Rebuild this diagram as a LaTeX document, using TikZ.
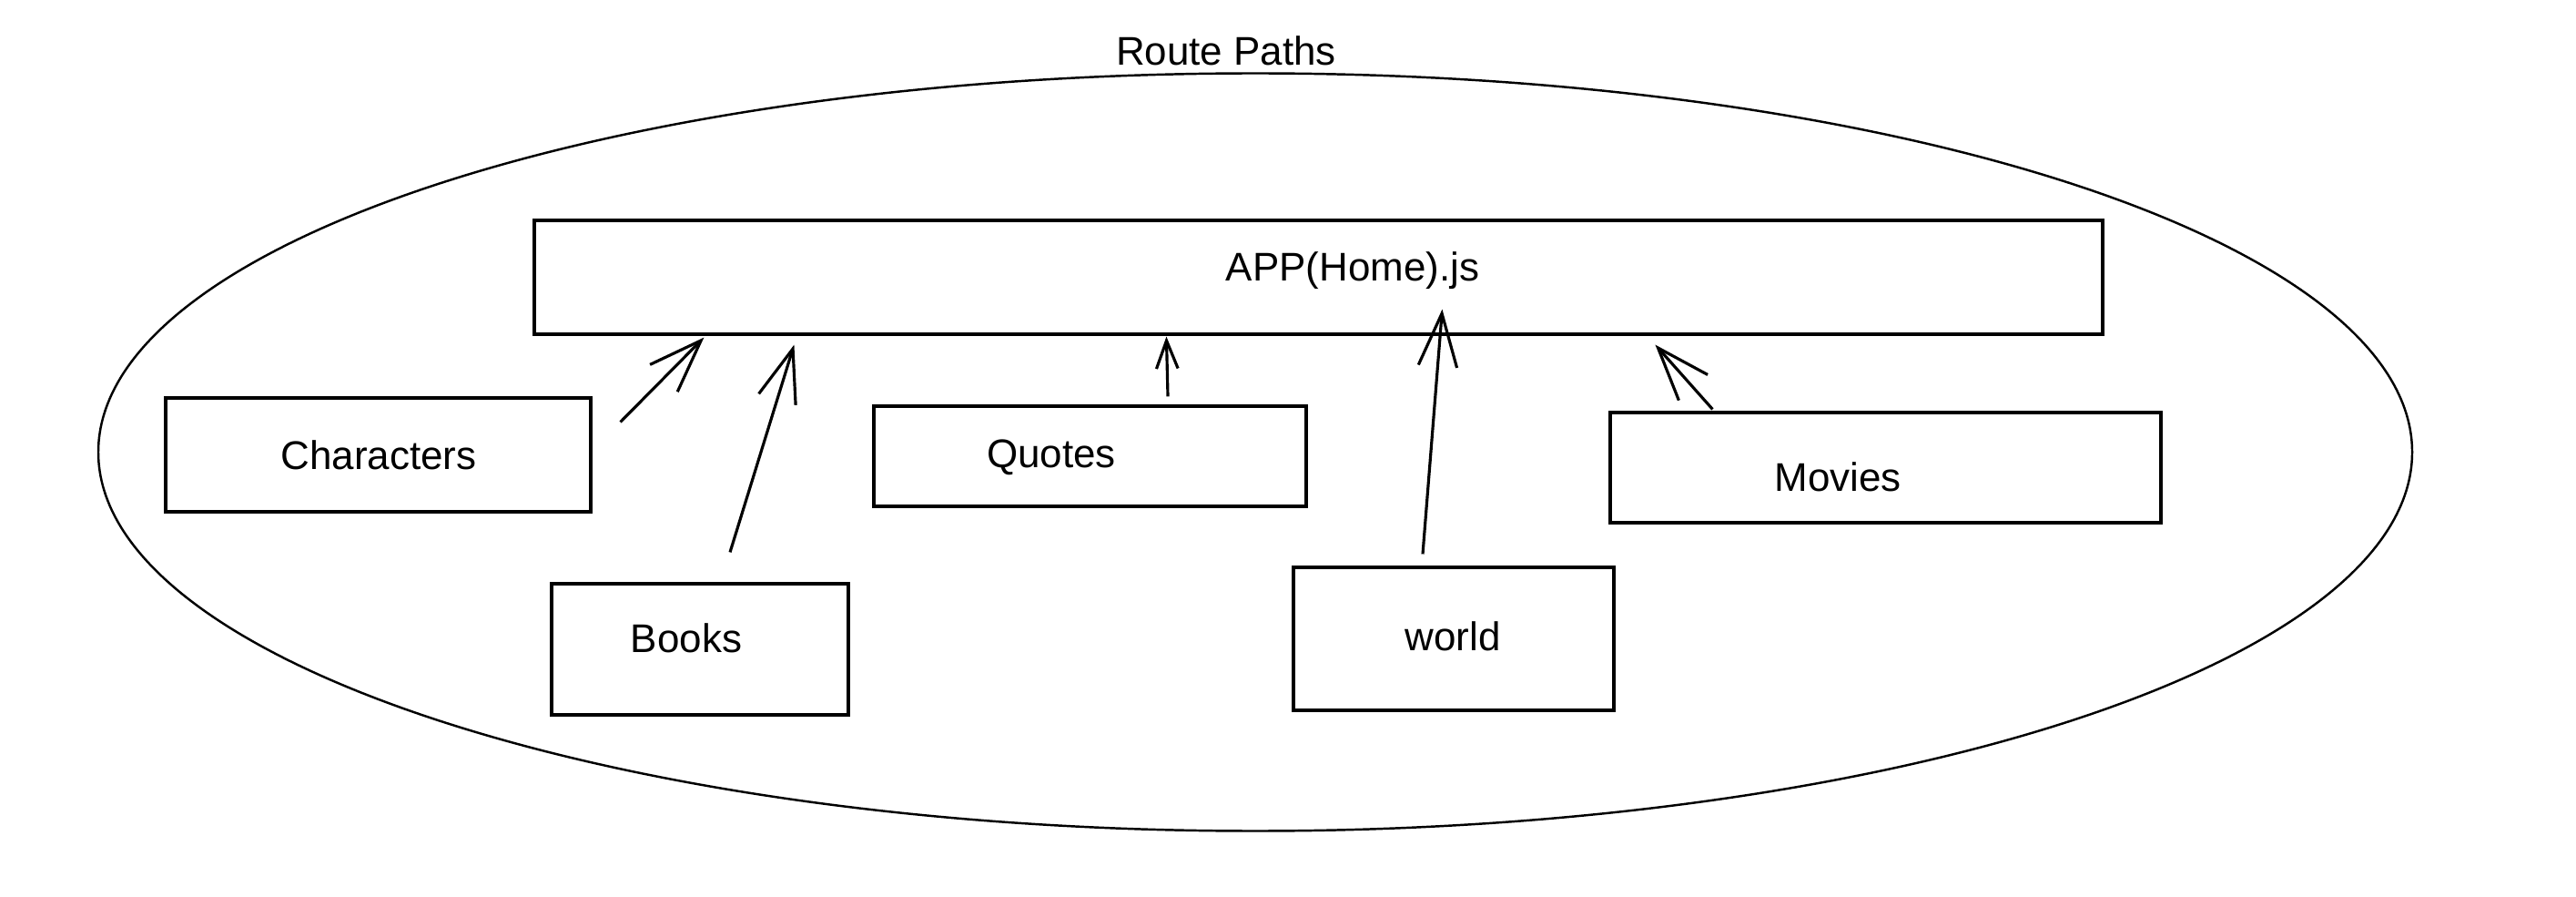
\documentclass[tikz,border=0pt]{standalone}
\usepackage{fontspec}
\setmainfont{Liberation Sans}
\usetikzlibrary{arrows.meta}

\begin{document}
\begin{tikzpicture}
  \tikzset{route/.style = {draw, line width=0.7pt}}
  \tikzset{page/.style = {shape=rectangle, draw, line width=0.9pt, inner sep=0pt}}
  \tikzset{lbl/.style = {font=\fontsize{12.5}{15}\selectfont, inner sep=1pt}}
  \tikzset{%
  tipV/.tip={Straight Barb[angle=40:0.62cm]},
  tipS/.tip={Straight Barb[angle=42:0.33cm]},
}
  \tikzset{edge/.style = {-tipV, line width=0.9pt}}
  \tikzset{sedge/.style = {-tipS, line width=0.9pt}}

  \useasboundingbox (0,0) rectangle (28.30,9.84);

	\draw[route] (13.79,4.875) ellipse [x radius=12.71, y radius=4.16];
	\node[lbl] (RP) at (13.47,9.28) {Route Paths};

	\node[page, minimum width=17.23cm, minimum height=1.25cm] (APP) at (14.485,6.795) {};
	\node[lbl] (APPt) at (14.86,6.87) {APP(Home).js};

	\node[page, minimum width=4.67cm, minimum height=1.25cm] (CH) at (4.155,4.845) {};
	\node[lbl] (CHt) at (4.16,4.84) {Characters};
	\node[page, minimum width=4.75cm, minimum height=1.10cm] (QU) at (11.975,4.83) {};
	\node[lbl] (QUt) at (11.55,4.82) {Quotes};
	\node[page, minimum width=6.05cm, minimum height=1.21cm] (MO) at (20.715,4.705) {};
	\node[lbl] (MOt) at (20.19,4.60) {Movies};
	\node[page, minimum width=3.26cm, minimum height=1.44cm] (BO) at (7.69,2.71) {};
	\node[lbl] (BOt) at (7.54,2.83) {Books};
	\node[page, minimum width=3.52cm, minimum height=1.57cm] (WO) at (15.97,2.825) {};
	\node[lbl] (WOt) at (15.96,2.85) {world};

	\draw[edge] ([shift={(0.31,-0.28)}]CH.north east) -- ([shift={(1.88,-0.02)}]APP.south west);
	\draw[edge] ([shift={(0.33,0.33)}]BO.north) -- ([shift={(2.87,-0.10)}]APP.south west);
	\draw[sedge] ([shift={(0.855,0.09)}]QU.north) -- ([shift={(6.96,-0.01)}]APP.south west);
	\draw[edge] ([shift={(-0.34,0.13)}]WO.north) -- ([shift={(9.99,0.29)}]APP.south west);
	\draw[edge] ([shift={(1.14,0.02)}]MO.north west) -- ([shift={(12.33,-0.10)}]APP.south west);

\end{tikzpicture}
\end{document}
